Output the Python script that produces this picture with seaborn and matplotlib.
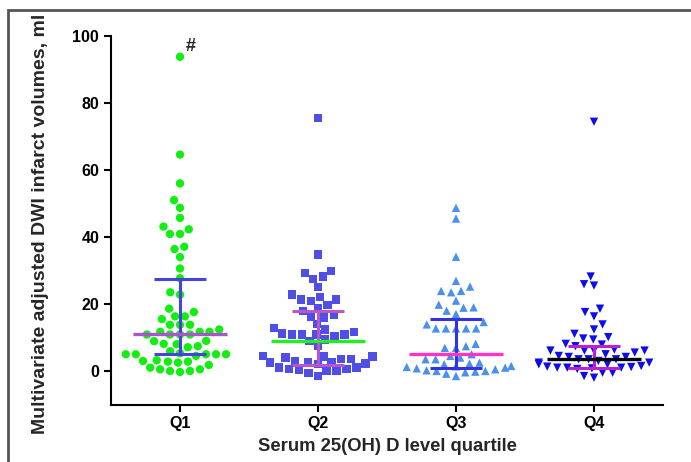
import matplotlib
matplotlib.use("Agg")
import matplotlib.pyplot as plt
import seaborn as sns
import pandas as pd
from matplotlib.patches import Rectangle

categories = ["Q1", "Q2", "Q3", "Q4"]

q1_values = [93.8, 64.6, 56, 51, 48.7, 45.7, 43.1, 42.3, 40.9, 40.9, 37.1, 36.4, 34, 30.6,
             27.7, 23.5, 22.8, 18.6, 17.6, 16.3, 16.3, 15.5, 13.8, 13.8, 13.8, 12.4, 11.7,
             11.7, 11.7, 10.9, 10.9, 10.9, 10.9, 9, 8.9, 8.1, 7.4, 7.1, 8, 5.9, 5.0, 5.0,
             5.0, 5.0, 5.0, 4.5, 5.3, 2.8, 1.8, 0.5, 0, -0.3, 0, 0.5, 1, 2.5, 3.2, 2.8, 3]
q2_values = [75.5, 34.8, 29.2, 27.5, 28.2, 29.9, 25, 22, 21.3, 22.8, 20.8, 21.3, 18.8, 19.8,
             18, 16.8, 16, 16.3, 14, 12.8, 12.4, 11.2, 10.4, 10.9, 10.9, 10.9, 11.6, 10.9,
             8.9, 9.4, 7.4, 4.3, 4, 4.4, 3.6, 4.3, 3.6, 0.5, 1, 2.5, 2.2, 2.8, 2.5, 2.0,
             2.5, 0, 0.2, -1.5, -0.5, 0, 1, 0.5]
q3_values = [48.7, 45.5, 34.1, 26.9, 25.2, 23.9, 23.5, 23.9, 21, 19.8, 19, 18, 18.9, 17,
             14.6, 13.9, 12.7, 12.7, 12.7, 12.7, 12.7, 8.1, 6.9, 6.9, 7.4, 5, 4.5, 3.5, 3.5,
             4, 0, -0.2, 1, 0.2, 1.2, 0, 0.8, 2, -0.4, -1.5, 1.4, 0.5, -0.8, 1.5, 2.5, 2.2]
q4_values = [74.4, 28.2, 25.9, 25.5, 18.6, 16.3, 17.6, 13.9, 12.4, 9.7, 10.1, 11.1, 9.4, 8.1,
             7.9, 7.4, 6.1, 6.1, 6.1, 6.4, 6.1, 5, 4.2, 4.2, 3.5, 3.5, 3.5, 1.5, 1, 1.2, 0.8,
             1, 0.6, 1.3, 1, 2.5, 2.5, -0.5, -2, -1.5, -0.5, 2, 2, 3, 4.5, 5.5]

medians = [11, 9, 5.2, 3.6]
lower_q = [5, 1.7, 1, 1]
upper_q = [27.5, 18, 15.5, 7.5]

point_markers = ["o", "s", "^", "v"]
point_colors = ["#11ee11", "#4f4fe6", "#4a90ec", "#0d0de8"]
median_colors = ["#aa55cc", "#22ee22", "#ff33cc", "#000000"]
iqr_colors = ["#4444dd", "#bb55cc", "#3333dd", "#bb22cc"]

sns.set_style("ticks")
plt.rcParams["font.family"] = ["Liberation Sans", "DejaVu Sans"]
plt.rcParams["font.weight"] = "bold"

fig = plt.figure(figsize=(6.91, 4.62), dpi=100)
ax = fig.add_axes([111 / 691, 1 - 404.5 / 462, 552 / 691, 368.5 / 462])

groups = [q1_values, q2_values, q3_values, q4_values]
for cat, vals, mk, col in zip(categories, groups, point_markers, point_colors):
    df = pd.DataFrame({"group": [cat] * len(vals), "value": vals})
    sns.swarmplot(data=df, x="group", y="value", order=categories, marker=mk,
                  color=col, size=6, linewidth=0.9, edgecolor="none", ax=ax, zorder=2,
                  warn_thresh=1.0)

xs = list(range(len(categories)))
for i in xs:
    ax.vlines(i, lower_q[i], upper_q[i], color=iqr_colors[i], lw=2.2, zorder=3)
    ax.hlines([lower_q[i], upper_q[i]], i - 0.19, i + 0.19, color=iqr_colors[i], lw=2.2, zorder=3)
    ax.hlines(medians[i], i - 0.34, i + 0.34, color=median_colors[i], lw=2.4, zorder=4)

ax.text(0.04, max(q1_values) + 0.5, "#", fontsize=13, fontweight="bold", ha="left", va="bottom")

ax.set_xlim(-0.5, 3.5)
ax.set_ylim(-10, 100)
ax.set_yticks([0, 20, 40, 60, 80, 100])
ax.set_xticks(xs)
ax.set_xticklabels(categories)
for s in ["top", "right"]:
    ax.spines[s].set_visible(False)
for s in ["left", "bottom"]:
    ax.spines[s].set_linewidth(1.5)
    ax.spines[s].set_color("black")
ax.tick_params(axis="both", length=5, width=1.5, labelsize=11.5, colors="black")
for lab in ax.get_xticklabels() + ax.get_yticklabels():
    lab.set_fontweight("bold")

ax.set_xlabel("Serum 25(OH) D level quartile", fontsize=13.3, fontweight="bold", labelpad=5)
ax.set_ylabel("Multivariate adjusted DWI infarct volumes, ml", fontsize=14, fontweight="bold")
ax.yaxis.set_label_coords(-0.112, 0.49)

fig.add_artist(Rectangle((8 / 691, -0.1), 1.2, 1.1 - 10 / 462, transform=fig.transFigure,
                         fill=False, edgecolor="#555555", lw=2))

fig.savefig("out.png", dpi=100)
